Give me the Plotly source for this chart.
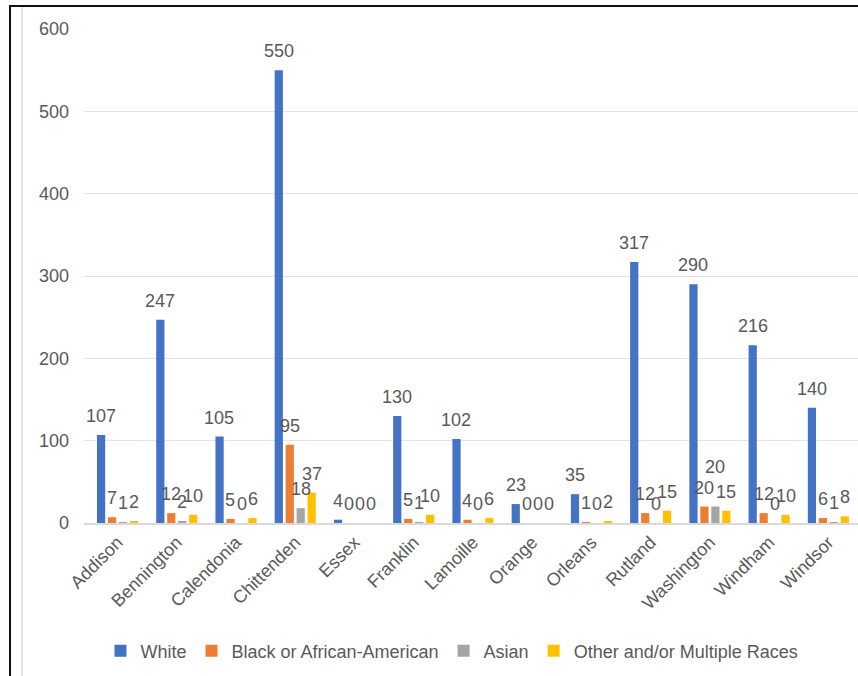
import plotly.graph_objects as go

counties = ["Addison", "Bennington", "Calendonia", "Chittenden", "Essex", "Franklin",
            "Lamoille", "Orange", "Orleans", "Rutland", "Washington", "Windham", "Windsor"]

white = [107, 247, 105, 550, 4, 130, 102, 23, 35, 317, 290, 216, 140]
black = [7, 12, 5, 95, 0, 5, 4, 0, 1, 12, 20, 12, 6]
asian = [1, 2, 0, 18, 0, 1, 0, 0, 0, 0, 20, 0, 1]
other = [2, 10, 6, 37, 0, 10, 6, 0, 2, 15, 15, 10, 8]

series_names = ["White", "Black or African-American", "Asian", "Other and/or Multiple Races"]
series_values = [white, black, asian, other]
colors = ["#4472C4", "#ED7D31", "#A5A5A5", "#FFC000"]

y_ticks = [0, 100, 200, 300, 400, 500, 600]

W, H = 858, 676
ML, MR, MT, MB = 84, 0, 29, 153
PW, PH = W - ML - MR, H - MT - MB
BARGAP = 0.26
TXT = "#595959"
FONT = "Liberation Sans, Arial"

# labels lifted clear of a neighbour that would otherwise collide
label_lift = {("Asian", "Washington"): 21}


def px_x(p):
    return (p - ML) / PW


def px_y(p):
    return (H - MB - p) / PH


fig = go.Figure()
for name, vals, col in zip(series_names, series_values, colors):
    fig.add_trace(go.Bar(name=name, x=counties, y=vals, marker_color=col,
                         marker_line_width=0))

# value labels sit centred above each bar of the group
slot = PW / len(counties) * (1 - BARGAP) / len(series_values)
annotations = []
for k, (name, vals) in enumerate(zip(series_names, series_values)):
    shift = (k - (len(series_values) - 1) / 2) * slot
    for c, v in zip(counties, vals):
        annotations.append(dict(x=c, y=v, text=str(v), showarrow=False,
                                xshift=shift, yshift=7 + label_lift.get((name, c), 0),
                                yanchor="bottom",
                                font=dict(size=18, color=TXT, family=FONT)))

shapes = [
    # outer frame (left and top edges)
    dict(type="line", xref="paper", yref="paper", x0=px_x(10), x1=px_x(10),
         y0=px_y(5), y1=px_y(H + 5), line=dict(color="#111111", width=2)),
    dict(type="line", xref="paper", yref="paper", x0=px_x(10), x1=px_x(W + 5),
         y0=px_y(6), y1=px_y(6), line=dict(color="#111111", width=2)),
    # inner chart-area edge
    dict(type="line", xref="paper", yref="paper", x0=px_x(22), x1=px_x(22),
         y0=px_y(7), y1=px_y(H + 5), line=dict(color="#e4e4e4", width=2)),
]

fig.update_layout(
    width=W, height=H,
    margin=dict(l=ML, r=MR, t=MT, b=MB),
    paper_bgcolor="white", plot_bgcolor="white",
    barmode="group", bargap=BARGAP, bargroupgap=0.25,
    font=dict(family=FONT, size=18, color=TXT),
    showlegend=True,
    legend=dict(orientation="h", x=px_x(452), xanchor="center",
                y=px_y(651), yanchor="middle",
                font=dict(size=18, color=TXT), traceorder="normal"),
    annotations=annotations,
    shapes=shapes,
)
fig.update_xaxes(tickangle=-45, showgrid=False, showline=True,
                 linecolor="#d9d9d9", linewidth=1.5, ticks="",
                 tickfont=dict(size=18, color=TXT))
fig.update_yaxes(range=[0, 600], tickvals=y_ticks, showgrid=True,
                 gridcolor="#e3e3e3", gridwidth=1, zeroline=False,
                 showline=False, ticklabelstandoff=14,
                 tickfont=dict(size=18, color=TXT))

fig.write_html("out.html")
